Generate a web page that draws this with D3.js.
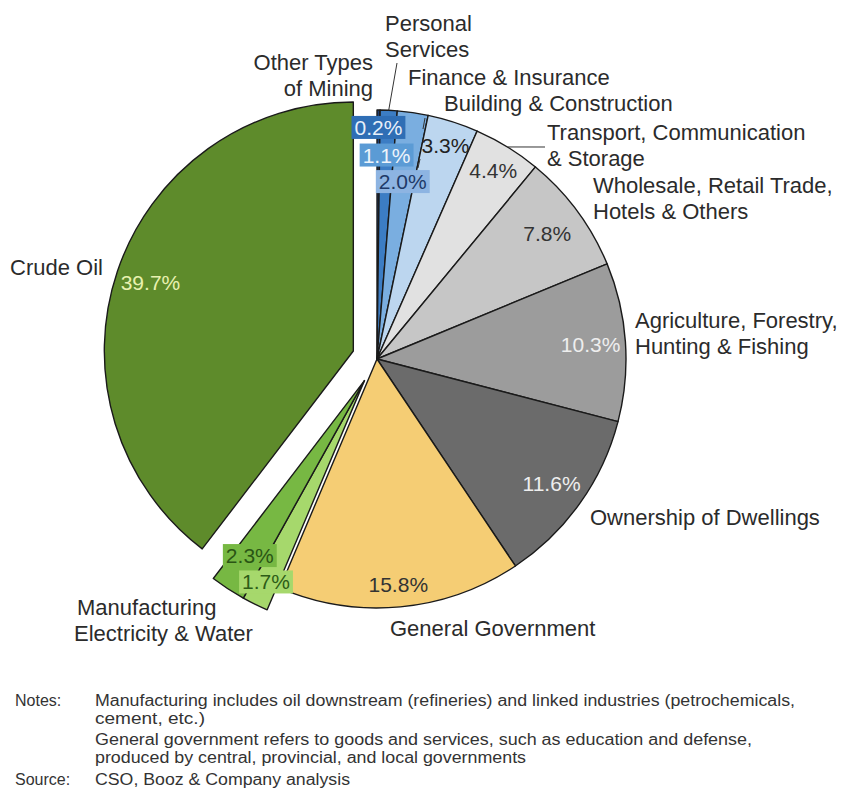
<!DOCTYPE html>
<html>
<head>
<meta charset="utf-8">
<title>GDP by sector</title>
<style>
  body { margin: 0; background: #fff; }
  svg { display: block; }
  .slice { stroke: #1a1a1a; stroke-width: 1.4px; stroke-linejoin: round; }
  .cat { font-family: "Liberation Sans", Arial, sans-serif; font-size: 22px; fill: #2b2b2b; dominant-baseline: central; }
  .pct { font-family: "Liberation Sans", Arial, sans-serif; font-size: 21px; text-anchor: middle; dominant-baseline: central; }
  .leader { stroke: #333; stroke-width: 1px; fill: none; }
  .note { font-family: "Liberation Sans Narrow", "Arial Narrow", "Liberation Sans", sans-serif; font-size: 16px; fill: #333; dominant-baseline: central; }
</style>
</head>
<body>
<svg id="chart" width="845" height="788"></svg>
<script src="https://cdn.jsdelivr.net/npm/d3@7"></script>
<script>
// data, clockwise from 12 o'clock
const sectors = [
  "Other Types of Mining", "Personal Services", "Finance & Insurance",
  "Building & Construction", "Transport, Communication & Storage",
  "Wholesale, Retail Trade, Hotels & Others", "Agriculture, Forestry, Hunting & Fishing",
  "Ownership of Dwellings", "General Government", "Electricity & Water",
  "Manufacturing", "Crude Oil"
];
const shares = [0.2, 1.1, 2.0, 3.3, 4.4, 7.8, 10.3, 11.6, 15.8, 1.7, 2.3, 39.7];
const sectorLines = [
  ["Other Types", "of Mining"], ["Personal", "Services"], ["Finance & Insurance"],
  ["Building & Construction"], ["Transport, Communication", "& Storage"],
  ["Wholesale, Retail Trade,", "Hotels & Others"], ["Agriculture, Forestry,", "Hunting & Fishing"],
  ["Ownership of Dwellings"], ["General Government"], ["Electricity & Water"],
  ["Manufacturing"], ["Crude Oil"]
];
const noteHeads = ["Notes:", "", "", "", "Source:"];
const noteLines = [
  "Manufacturing includes oil downstream  (refineries) and linked  industries (petrochemicals,",
  "cement, etc.)",
  "General government  refers to goods and services, such as education and defense,",
  "produced by central, provincial, and local governments",
  "CSO, Booz & Company analysis"
];

// styling
const sliceColors = ["#1f3d70", "#3c7dc4", "#7aaee0", "#bcd6ef", "#e1e1e1", "#c6c6c6",
                     "#9c9c9c", "#6b6b6b", "#f5cd74", "#a6d86c", "#77b843", "#5e8b2b"];
const boxColors = ["#2f6eb5", "#5b9bd5", "#8db4e2", null, null, null,
                   null, null, null, "#a6d86c", "#77b843", null];
const pctColors = ["#e8f0fa", "#eef4fb", "#1f3a68", "#222", "#333", "#333",
                   "#eeeeee", "#eeeeee", "#333", "#2e5d17", "#2a5514", "#e8f1b0"];
const pctRadius = [0.93, 0.82, 0.72, 0.90, 0.89, 0.85, 0.86, 0.86, 0.91, 0.90, 0.84, 0.86];
const explodeGroup = [0, 0, 0, 0, 0, 0, 0, 0, 0, 1, 1, 2]; // 0 = not pulled out
const explodeDist = 25;

// category label layout: [x, y of first line, anchor]
const labelPos = [
  [373, 62, "end"], [385, 23, "start"], [408, 77, "start"], [444, 103, "start"],
  [547, 132, "start"], [593, 185, "start"], [635, 320, "start"], [590, 517, "start"],
  [390, 628, "start"], [74, 633, "start"], [77, 607, "start"], [10, 267, "start"]
];
const lineH = 26;
// leader lines: slice index -> end point
const leaders = [[1, 397, 63], [4, 545, 147]];
// short label ticks (x1, y1, x2, y2)
const ticks = [[425, 118, 423, 129], [420, 159, 418, 168]];

const svg = d3.select("#chart");
const cx = 377, cy = 359, R = 249;

const pie = d3.pie().sort(null).value(d => d);
const arcs = pie(shares);
const arc = d3.arc().innerRadius(0).outerRadius(R);

// mid angle of each explode group
const groupMid = {};
arcs.forEach((a, i) => {
  const g = explodeGroup[i];
  if (!g) return;
  if (!groupMid[g]) groupMid[g] = [a.startAngle, a.endAngle];
  groupMid[g][0] = Math.min(groupMid[g][0], a.startAngle);
  groupMid[g][1] = Math.max(groupMid[g][1], a.endAngle);
});
function offset(i) {
  const g = explodeGroup[i];
  if (!g) return [0, 0];
  const m = (groupMid[g][0] + groupMid[g][1]) / 2;
  return [Math.sin(m) * explodeDist, -Math.cos(m) * explodeDist];
}

const pieG = svg.append("g").attr("transform", `translate(${cx},${cy})`);

pieG.selectAll("path.slice")
  .data(arcs)
  .join("path")
  .attr("class", "slice")
  .attr("transform", (d, i) => `translate(${offset(i)})`)
  .attr("fill", (d, i) => sliceColors[i])
  .attr("d", arc);

// leader lines
leaders.forEach(([i, x, y]) => {
  const a = arcs[i];
  const m = (a.startAngle + a.endAngle) / 2;
  pieG.append("line")
    .attr("class", "leader")
    .attr("x1", Math.sin(m) * R).attr("y1", -Math.cos(m) * R)
    .attr("x2", x - cx).attr("y2", y - cy);
});

// percentage labels
arcs.forEach((a, i) => {
  const m = (a.startAngle + a.endAngle) / 2;
  const [ox, oy] = offset(i);
  const r = R * pctRadius[i];
  const x = ox + Math.sin(m) * r, y = oy - Math.cos(m) * r;
  const g = pieG.append("g").attr("transform", `translate(${x},${y})`);
  const t = g.append("text")
    .attr("class", "pct")
    .attr("fill", pctColors[i])
    .text(shares[i].toFixed(1) + "%");
  if (boxColors[i]) {
    const b = t.node().getBBox();
    g.insert("rect", "text")
      .attr("x", b.x - 3).attr("y", b.y)
      .attr("width", b.width + 6).attr("height", b.height)
      .attr("fill", boxColors[i]);
  }
});

svg.selectAll("line.tick")
  .data(ticks)
  .join("line")
  .attr("class", "leader tick")
  .attr("stroke-width", 1.5)
  .attr("x1", d => d[0]).attr("y1", d => d[1])
  .attr("x2", d => d[2]).attr("y2", d => d[3]);

// category labels
sectorLines.forEach((lines, i) => {
  const [x, y, anchor] = labelPos[i];
  const t = svg.append("text")
    .attr("class", "cat")
    .attr("text-anchor", anchor);
  lines.forEach((s, k) => {
    t.append("tspan").attr("x", x).attr("y", y + k * lineH).text(s);
  });
});

// notes
const noteY = [700, 718, 739, 757, 779];
const noteW = [700, 110, 657, 431, 255];
noteLines.forEach((s, k) => {
  if (noteHeads[k]) {
    svg.append("text").attr("class", "note")
      .attr("x", 15).attr("y", noteY[k]).text(noteHeads[k]);
  }
  svg.append("text").attr("class", "note")
    .attr("x", 95).attr("y", noteY[k])
    .attr("textLength", noteW[k])
    .attr("lengthAdjust", "spacingAndGlyphs")
    .text(s);
});
</script>
</body>
</html>
